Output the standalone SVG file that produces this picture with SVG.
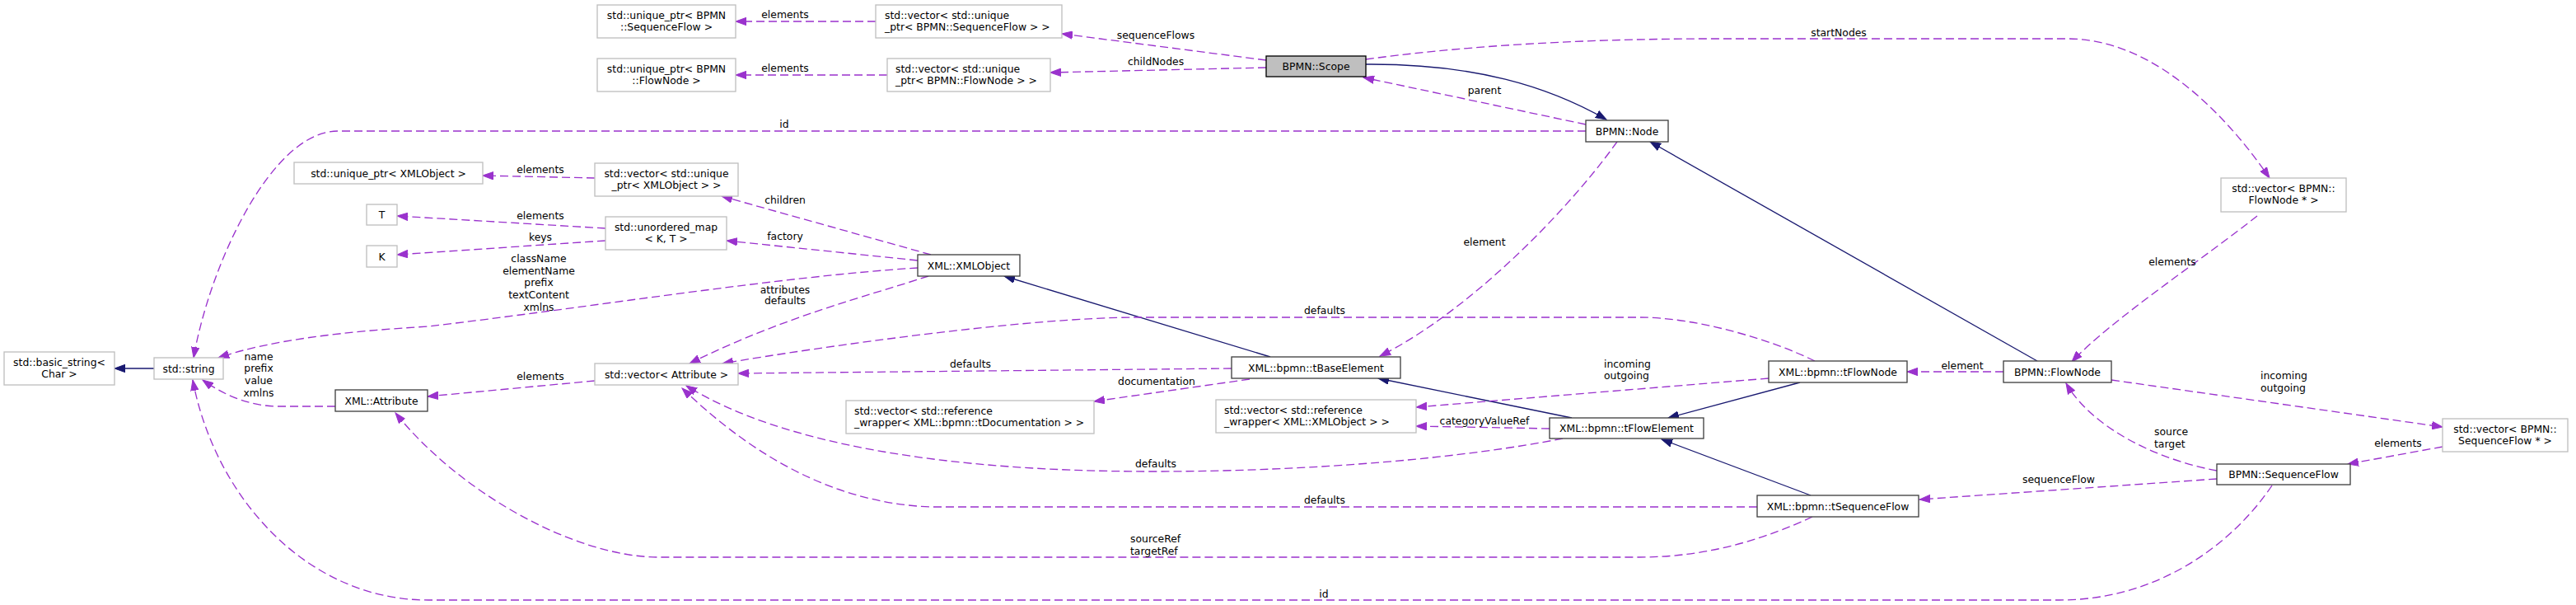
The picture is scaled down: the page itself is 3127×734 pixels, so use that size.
<svg xmlns="http://www.w3.org/2000/svg" width="3127" height="734" viewBox="0 0 3127 734">
<style>
text{font-family:"DejaVu Sans","Liberation Sans",sans-serif;font-size:12.4px;fill:#000}
.c{text-anchor:middle}
.s{text-anchor:start}
.doc{fill:#fff;stroke:#404040;stroke-width:1.33}
.ext{fill:#fff;stroke:#bfbfbf;stroke-width:1.33}
.focus{fill:#bfbfbf;stroke:#000;stroke-width:1.33}
.u{fill:none;stroke:#9a32cd;stroke-width:1.33;stroke-dasharray:10,5;marker-end:url(#ap)}
.i{fill:none;stroke:#191970;stroke-width:1.33;marker-end:url(#an)}
</style>
<defs>
<marker id="ap" markerWidth="14" markerHeight="10" refX="13" refY="5" orient="auto" markerUnits="userSpaceOnUse"><path d="M0,0.3 L13,5 L0,9.7 z" fill="#9a32cd" stroke="#9a32cd" stroke-width="1"/></marker>
<marker id="an" markerWidth="14" markerHeight="10" refX="13" refY="5" orient="auto" markerUnits="userSpaceOnUse"><path d="M0,0.3 L13,5 L0,9.7 z" fill="#191970" stroke="#191970" stroke-width="1"/></marker>
</defs>
<rect width="3127" height="734" fill="#fff"/>
<g id="connectors">
<path class="i" d="M187,447 L139,447"/>
<path class="i" d="M1658,78 C1790,77 1880,105 1950,145"/>
<path class="u" d="M1925,151 L1655,94"/>
<path class="u" d="M1925,159 L410,159 C330,159 255,320 235,434"/>
<path class="u" d="M1537,73 L1289,41"/>
<path class="u" d="M1537,82 L1275,88"/>
<path class="u" d="M1063,26 L893,26"/>
<path class="u" d="M1077,91 L893,91"/>
<path class="u" d="M1658,72 C1760,58 1900,47 2080,47 L2510,47 C2620,47 2710,150 2755,216"/>
<path class="u" d="M2740,262 C2680,310 2560,390 2515,439"/>
<path class="u" d="M2563,461 L2965,518"/>
<path class="u" d="M2965,542 L2850,563"/>
<path class="u" d="M2691,571 C2620,558 2540,520 2508,465"/>
<path class="u" d="M2691,581 L2330,606"/>
<path class="u" d="M2758,589 C2710,660 2620,728 2500,728 L520,728 C370,728 260,600 234,461"/>
<path class="u" d="M2432,451 L2315,451"/>
<path class="i" d="M2473,438 L2003,172"/>
<path class="i" d="M2185,464 L2025,507"/>
<path class="i" d="M2198,601 L2017,533"/>
<path class="i" d="M1908,507 L1673,459"/>
<path class="i" d="M1542,433 L1219,335"/>
<path class="u" d="M1963,172 C1900,260 1780,380 1675,432"/>
<path class="u" d="M2203,438 C2150,412 2060,385 1990,385 L1380,385 C1250,385 1000,420 877,441"/>
<path class="u" d="M1495,447 L896,453"/>
<path class="u" d="M1517,460 L1328,487"/>
<path class="u" d="M2147,459 L1719,494"/>
<path class="u" d="M1881,520 L1719,517"/>
<path class="u" d="M1897,532 C1780,555 1600,572 1400,572 C1150,572 950,540 833,468"/>
<path class="u" d="M2133,615 L1130,615 C1000,610 900,540 828,471"/>
<path class="u" d="M2200,627 C2150,650 2080,676 1990,676 L800,676 C700,676 560,600 480,501"/>
<path class="u" d="M1130,309 L876,238"/>
<path class="u" d="M1114,316 L882,292"/>
<path class="u" d="M1114,325 C950,335 700,375 520,396 C420,402 330,412 265,434"/>
<path class="u" d="M1127,335 C1050,360 950,385 837,441"/>
<path class="u" d="M735,277 L482,262"/>
<path class="u" d="M735,292 L482,309"/>
<path class="u" d="M722,216 L586,213"/>
<path class="u" d="M722,462 L519,481"/>
<path class="u" d="M407,493 L335,493 C300,492 270,478 246,461"/>
<text class="c" x="1802" y="113.5">parent</text>
<text class="c" x="952" y="154.5">id</text>
<text class="c" x="1403" y="46.5">sequenceFlows</text>
<text class="c" x="1403" y="78.5">childNodes</text>
<text class="c" x="953" y="21.5">elements</text>
<text class="c" x="953" y="86.5">elements</text>
<text class="c" x="2232" y="43.5">startNodes</text>
<text class="c" x="2637" y="321.5">elements</text>
<text class="s" x="2744" y="459.5">incoming</text>
<text class="s" x="2744" y="474.5">outgoing</text>
<text class="c" x="2911" y="541.5">elements</text>
<text class="s" x="2615" y="527.5">source</text>
<text class="s" x="2615" y="542.5">target</text>
<text class="c" x="2499" y="585.5">sequenceFlow</text>
<text class="c" x="1607" y="724.5">id</text>
<text class="c" x="2382" y="447.5">element</text>
<text class="c" x="1802" y="297.5">element</text>
<text class="c" x="1608" y="380.5">defaults</text>
<text class="c" x="1178" y="445.5">defaults</text>
<text class="c" x="1404" y="466.5">documentation</text>
<text class="s" x="1947" y="445.5">incoming</text>
<text class="s" x="1947" y="459.5">outgoing</text>
<text class="c" x="1802" y="514.5">categoryValueRef</text>
<text class="c" x="1403" y="566.5">defaults</text>
<text class="c" x="1608" y="610.5">defaults</text>
<text class="s" x="1372" y="657.5">sourceRef</text>
<text class="s" x="1372" y="672.5">targetRef</text>
<text class="c" x="953" y="246.5">children</text>
<text class="c" x="953" y="290.5">factory</text>
<text class="c" x="654" y="317.5">className</text>
<text class="c" x="654" y="332.5">elementName</text>
<text class="c" x="654" y="346.5">prefix</text>
<text class="c" x="654" y="361.5">textContent</text>
<text class="c" x="654" y="376.5">xmlns</text>
<text class="c" x="953" y="355.5">attributes</text>
<text class="c" x="953" y="368.5">defaults</text>
<text class="c" x="656" y="265.5">elements</text>
<text class="c" x="656" y="291.5">keys</text>
<text class="c" x="656" y="209.5">elements</text>
<text class="c" x="656" y="460.5">elements</text>
<text class="c" x="314" y="436.5">name</text>
<text class="c" x="314" y="450.5">prefix</text>
<text class="c" x="314" y="465.5">value</text>
<text class="c" x="314" y="480.5">xmlns</text>
</g>
<g id="n_basic_string"><rect class="ext" x="5" y="427" width="134" height="40"/><text class="c" x="72" y="443.5">std::basic_string&lt;</text><text class="c" x="72" y="458">Char &gt;</text></g>
<g id="n_string"><rect class="ext" x="187" y="434" width="84" height="26"/><text class="c" x="229" y="451.5">std::string</text></g>
<g id="n_attribute"><rect class="doc" x="407" y="473" width="112" height="26"/><text class="c" x="463" y="490.5">XML::Attribute</text></g>
<g id="n_up_xmlobject"><rect class="ext" x="357" y="197" width="229" height="26"/><text class="c" x="471.5" y="214.5">std::unique_ptr&lt; XMLObject &gt;</text></g>
<g id="n_T"><rect class="ext" x="445" y="248" width="37" height="25"/><text class="c" x="463.5" y="265">T</text></g>
<g id="n_K"><rect class="ext" x="445" y="298" width="37" height="26"/><text class="c" x="463.5" y="315.5">K</text></g>
<g id="n_up_seqflow"><rect class="ext" x="725" y="6" width="168" height="40"/><text class="c" x="809" y="22.5">std::unique_ptr&lt; BPMN</text><text class="c" x="809" y="37">::SequenceFlow &gt;</text></g>
<g id="n_up_flownode"><rect class="ext" x="725" y="71" width="168" height="40"/><text class="c" x="809" y="87.5">std::unique_ptr&lt; BPMN</text><text class="c" x="809" y="102">::FlowNode &gt;</text></g>
<g id="n_vec_up_xmlobject"><rect class="ext" x="722" y="198" width="174" height="40"/><text class="c" x="809" y="214.5">std::vector&lt; std::unique</text><text class="c" x="809" y="229">_ptr&lt; XMLObject &gt; &gt;</text></g>
<g id="n_unordered_map"><rect class="ext" x="735" y="263" width="147" height="40"/><text class="c" x="808.5" y="279.5">std::unordered_map</text><text class="c" x="808.5" y="294">&lt; K, T &gt;</text></g>
<g id="n_vec_attribute"><rect class="ext" x="722" y="441" width="174" height="26"/><text class="c" x="809" y="458.5">std::vector&lt; Attribute &gt;</text></g>
<g id="n_vec_ref_doc"><rect class="ext" x="1027" y="486" width="301" height="40"/><text class="s" x="1037" y="502.5">std::vector&lt; std::reference</text><text class="s" x="1037" y="517">_wrapper&lt; XML::bpmn::tDocumentation &gt; &gt;</text></g>
<g id="n_vec_ref_xmlobject"><rect class="ext" x="1476" y="485" width="243" height="40"/><text class="s" x="1486" y="501.5">std::vector&lt; std::reference</text><text class="s" x="1486" y="516">_wrapper&lt; XML::XMLObject &gt; &gt;</text></g>
<g id="n_xmlobject"><rect class="doc" x="1114" y="309" width="124" height="26"/><text class="c" x="1176" y="326.5">XML::XMLObject</text></g>
<g id="n_vec_up_seqflow"><rect class="ext" x="1063" y="6" width="226" height="40"/><text class="s" x="1074" y="22.5">std::vector&lt; std::unique</text><text class="s" x="1074" y="37">_ptr&lt; BPMN::SequenceFlow &gt; &gt;</text></g>
<g id="n_vec_up_flownode"><rect class="ext" x="1077" y="71" width="198" height="40"/><text class="s" x="1087" y="87.5">std::vector&lt; std::unique</text><text class="s" x="1087" y="102">_ptr&lt; BPMN::FlowNode &gt; &gt;</text></g>
<g id="n_scope"><rect class="focus" x="1537" y="68" width="121" height="25"/><text class="c" x="1597.5" y="85">BPMN::Scope</text></g>
<g id="n_node"><rect class="doc" x="1925" y="146" width="100" height="26"/><text class="c" x="1975" y="163.5">BPMN::Node</text></g>
<g id="n_tbaseelement"><rect class="doc" x="1495" y="433" width="205" height="26"/><text class="c" x="1597.5" y="450.5">XML::bpmn::tBaseElement</text></g>
<g id="n_tflowelement"><rect class="doc" x="1881" y="507" width="187" height="25"/><text class="c" x="1974.5" y="524">XML::bpmn::tFlowElement</text></g>
<g id="n_tflownode"><rect class="doc" x="2147" y="438" width="168" height="26"/><text class="c" x="2231" y="455.5">XML::bpmn::tFlowNode</text></g>
<g id="n_flownode"><rect class="doc" x="2432" y="438" width="131" height="26"/><text class="c" x="2497.5" y="455.5">BPMN::FlowNode</text></g>
<g id="n_tsequenceflow"><rect class="doc" x="2133" y="601" width="196" height="26"/><text class="c" x="2231" y="618.5">XML::bpmn::tSequenceFlow</text></g>
<g id="n_sequenceflow"><rect class="doc" x="2691" y="563" width="162" height="25"/><text class="c" x="2772" y="580">BPMN::SequenceFlow</text></g>
<g id="n_vec_flownode_ptr"><rect class="ext" x="2696" y="216" width="152" height="41"/><text class="c" x="2772" y="232.5">std::vector&lt; BPMN::</text><text class="c" x="2772" y="247">FlowNode * &gt;</text></g>
<g id="n_vec_seqflow_ptr"><rect class="ext" x="2965" y="508" width="152" height="40"/><text class="c" x="3041" y="524.5">std::vector&lt; BPMN::</text><text class="c" x="3041" y="539">SequenceFlow * &gt;</text></g>
</svg>
